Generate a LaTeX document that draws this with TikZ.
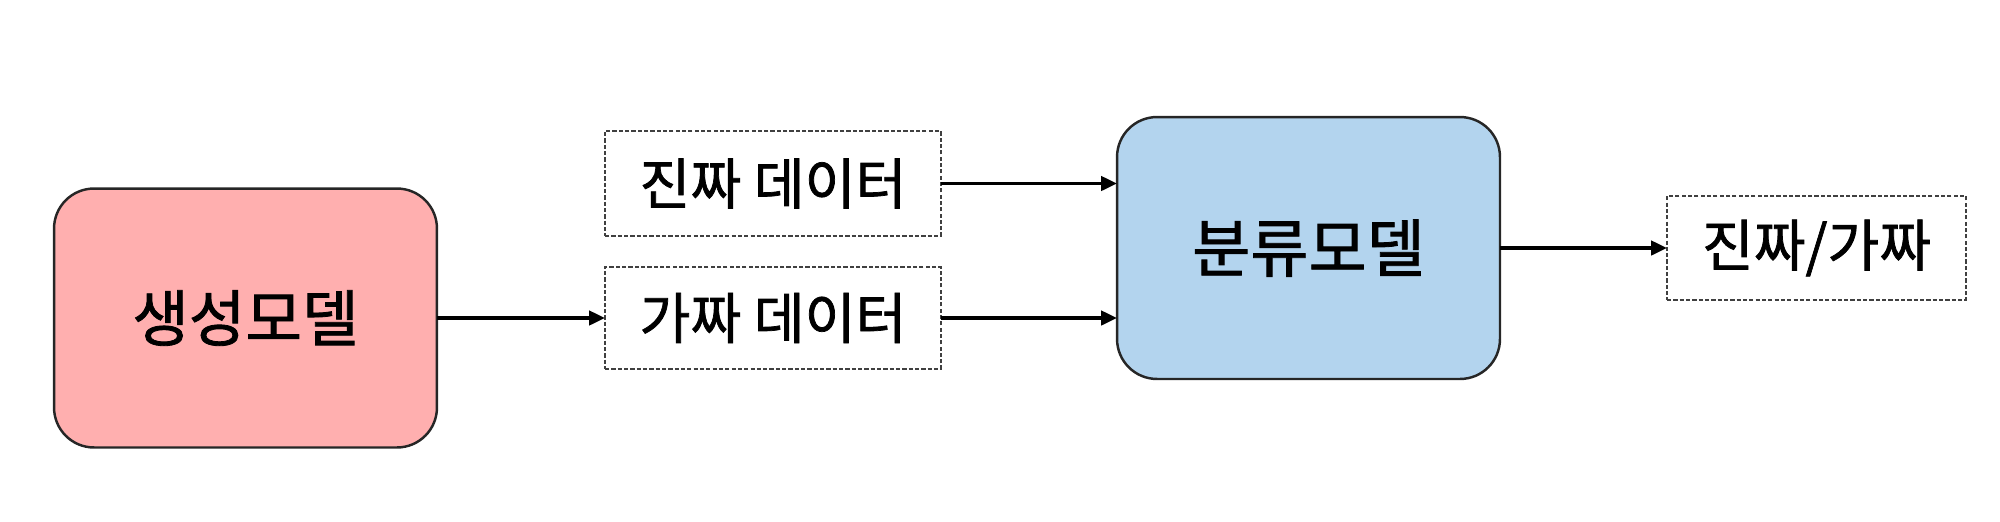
\documentclass[tikz,border=0pt]{standalone}
\usepackage{fontspec}
\setmainfont{Noto Sans CJK KR}[FakeBold=1.3,AutoFakeBold=1.3]
\usetikzlibrary{arrows.meta}
\definecolor{pinkfill}{HTML}{FFAFAF}
\definecolor{bluefill}{HTML}{B3D4EE}
\begin{document}
\begin{tikzpicture}[x=0.02cm,y=-0.02cm,
  model/.style={draw=black!85,line width=1.4pt,rounded corners=0.8cm,inner sep=0pt,outer sep=0pt,font=\bfseries\fontsize{35}{40}\selectfont},
  databox/.style={draw=black!75,line width=1.1pt,dash pattern=on 2.4pt off 1.2pt,inner sep=0pt,outer sep=0pt,font=\bfseries\fontsize{31.5}{36}\selectfont},
  flow/.style={line width=2.1pt,-{Triangle[length=9pt,width=8pt]}}]
\useasboundingbox (0,0) rectangle (2000,521);
\node[model,fill=pinkfill,minimum width=7.66cm,minimum height=5.18cm] (gen) at (245.5,318) {생성모델};
\node[databox,minimum width=6.72cm,minimum height=2.1cm] (real) at (773,183.5) {진짜 데이터};
\node[databox,minimum width=6.72cm,minimum height=2.04cm] (fake) at (773,318) {가짜 데이터};
\node[model,fill=bluefill,minimum width=7.66cm,minimum height=5.24cm,font=\bfseries\fontsize{36}{42}\selectfont] (cls) at (1308.5,248) {분류모델};
\node[databox,minimum width=5.98cm,minimum height=2.08cm,font=\bfseries\fontsize{32}{38}\selectfont] (out) at (1816.5,248) {진짜/가짜};
\draw[flow] (gen.east) -- (fake.west);
\draw[flow] (real.east) -- (real.east -| cls.west);
\draw[flow] (fake.east) -- (fake.east -| cls.west);
\draw[flow] (cls.east) -- (out.west);
\end{tikzpicture}
\end{document}
